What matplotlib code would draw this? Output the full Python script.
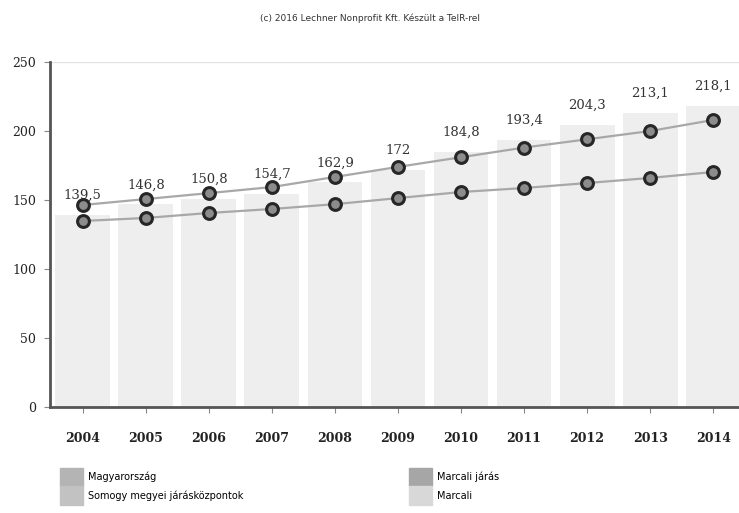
import matplotlib
matplotlib.use("Agg")
import matplotlib.pyplot as plt
from matplotlib.patches import Patch
import numpy as np

years = ['2004', '2005', '2006', '2007', '2008', '2009', '2010', '2011', '2012', '2013', '2014']
marcali = [139.5, 146.8, 150.8, 154.7, 162.9, 172, 184.8, 193.4, 204.3, 213.1, 218.1]
upper_line = [146.4, 150.7, 155.0, 159.4, 166.7, 174.0, 181.0, 188.0, 194.0, 200.0, 208.0]
lower_line = [134.8, 137.0, 140.6, 143.5, 147.0, 151.4, 155.8, 158.7, 162.3, 166.0, 170.3]

legend_names = ['Magyarország', 'Somogy megyei járásközpontok', 'Marcali járás', 'Marcali']
legend_colors = ['#b4b4b4', '#c2c2c2', '#a6a6a6', '#d8d8d8']

fig = plt.figure(figsize=(7.39, 5.13), dpi=100)
ax = fig.add_axes([0.0677, 0.2066, 0.9323, 0.6725])

x = np.arange(len(years))
ax.bar(x, marcali, width=0.87, color='#eeeeee', zorder=1)
for xi, v in zip(x, marcali):
    lbl = ('%g' % v).replace('.', ',')
    ax.annotate(lbl, (xi, v), xytext=(0, 14), textcoords='offset points',
                ha='center', va='center', fontsize=9.5, family='DejaVu Serif',
                color='#333333')

ax.plot(x, upper_line, color='#a8a8a8', lw=1.6, marker='o', ms=8.5,
        mfc='#8c8c8c', mec='#262626', mew=2.2, zorder=3)
ax.plot(x, lower_line, color='#a8a8a8', lw=1.6, marker='o', ms=8.5,
        mfc='#8c8c8c', mec='#262626', mew=2.2, zorder=3)

ax.set_ylim(0, 250)
ax.set_xlim(-0.52, 10.41)
ax.set_yticks([0, 50, 100, 150, 200, 250])
ax.set_xticks(x)
ax.set_xticklabels(years, family='DejaVu Serif', fontsize=9, fontweight='bold',
                   color='#222222')
for t in ax.get_yticklabels():
    t.set_family('DejaVu Serif')
    t.set_fontsize(9)
    t.set_color('#222222')
ax.tick_params(axis='x', length=4, pad=14, color='#888888')
ax.tick_params(axis='y', length=4, pad=6, color='#888888')
ax.axhline(250, color='#e4e4e4', lw=1, zorder=0)

for s in ['top', 'right']:
    ax.spines[s].set_visible(False)
ax.spines['left'].set_color('#555555')
ax.spines['left'].set_linewidth(2)
ax.spines['bottom'].set_color('#555555')
ax.spines['bottom'].set_linewidth(2)

fig.text(0.5, 0.965, '(c) 2016 Lechner Nonprofit Kft. Készült a TeIR-rel',
         ha='center', va='center', fontsize=6.5, color='#333333')

handles = [Patch(color=c) for c in legend_colors]
fig.legend(handles, legend_names,
           loc='upper left', bbox_to_anchor=(0.076, 0.096), ncol=2,
           frameon=False, fontsize=7, handlelength=2.4, handleheight=2.6,
           handletextpad=0.5, columnspacing=17.0, labelspacing=0.0,
           borderaxespad=0)

fig.savefig('out.png', dpi=100)
